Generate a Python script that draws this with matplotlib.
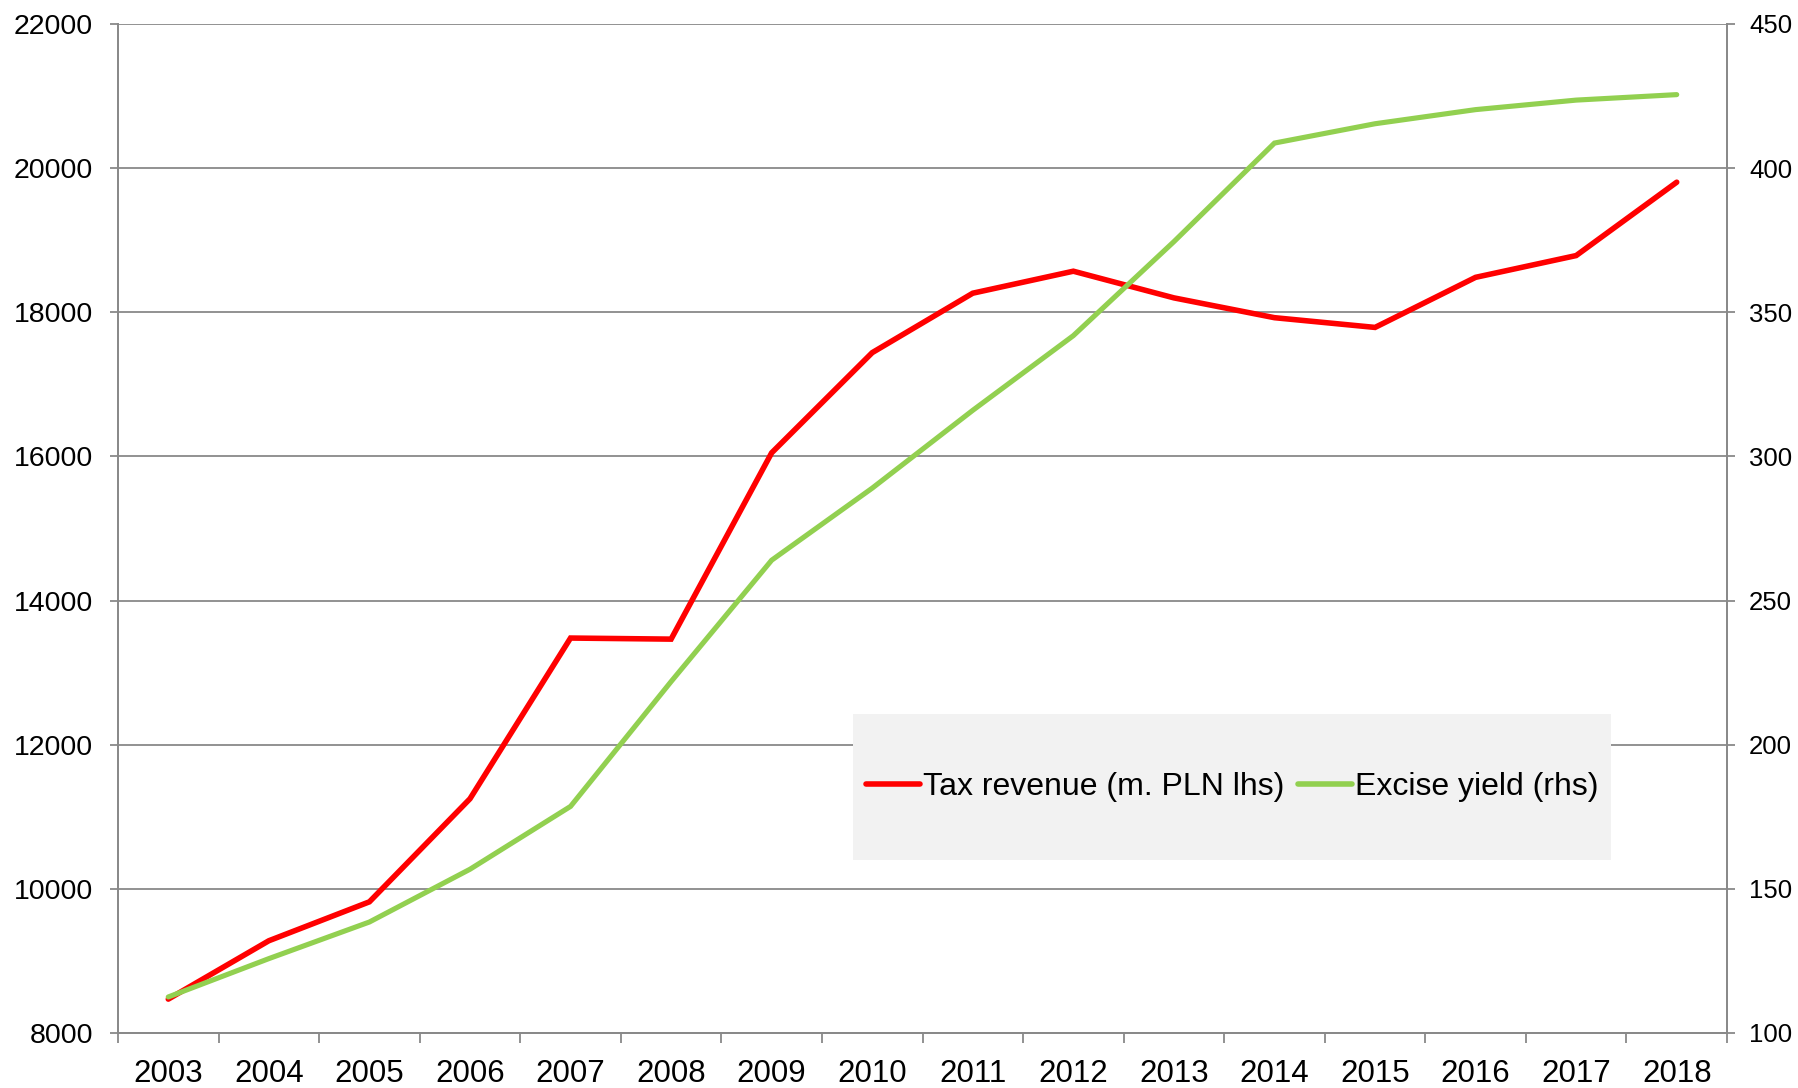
import matplotlib
matplotlib.use("Agg")
import matplotlib.pyplot as plt
from matplotlib.patches import Rectangle
from matplotlib.lines import Line2D

plt.rcParams['font.family'] = ['Liberation Sans', 'DejaVu Sans']

years = ['2003', '2004', '2005', '2006', '2007', '2008', '2009', '2010',
         '2011', '2012', '2013', '2014', '2015', '2016', '2017', '2018']
tax_revenue = [8470, 9280, 9820, 11250, 13480, 13465, 16050, 17440,
               18265, 18570, 18200, 17925, 17790, 18485, 18787, 19805]
excise_yield = [112.5, 125.8, 138.5, 156.8, 178.6, 221.9, 264.0, 289.0,
                316.0, 341.9, 374.5, 408.7, 415.4, 420.3, 423.6, 425.5]
left_ticks = [8000, 10000, 12000, 14000, 16000, 18000, 20000, 22000]
right_ticks = [100, 150, 200, 250, 300, 350, 400, 450]
label_tax = 'Tax revenue (m. PLN lhs)'
label_excise = 'Excise yield (rhs)'

RED = '#FF0000'
GREEN = '#92D050'
GRID = '#898989'

fig = plt.figure(figsize=(17.98, 10.88), dpi=100)
ax = fig.add_axes([118/1798, 1 - 1033/1088, (1727-118)/1798, (1033-24)/1088])
ax2 = ax.twinx()

x = list(range(len(years)))
ax.plot(x, tax_revenue, color=RED, lw=4.0, solid_capstyle='round', solid_joinstyle='miter', zorder=3)
ax2.plot(x, excise_yield, color=GREEN, lw=3.7, solid_capstyle='round', solid_joinstyle='miter', zorder=3)

ax.set_xlim(-0.5, len(years) - 0.5)
ax.set_ylim(left_ticks[0], left_ticks[-1])
ax2.set_ylim(right_ticks[0], right_ticks[-1])

ax.set_yticks(left_ticks)
ax.set_yticklabels([str(v) for v in left_ticks])
ax2.set_yticks(right_ticks)
ax2.set_yticklabels([str(v) for v in right_ticks])

# category boundaries as major ticks, labels at centres via minor ticks
ax.set_xticks([i - 0.5 for i in range(len(years) + 1)])
ax.set_xticklabels([])
ax.set_xticks(x, minor=True)
ax.set_xticklabels(years, minor=True)
ax.tick_params(axis='x', which='major', length=7.5, width=1.3, color=GRID, direction='out')
ax.tick_params(axis='x', which='minor', length=0, pad=19, labelsize=22.5)
ax.tick_params(axis='y', length=6, width=1.3, color=GRID, direction='out', pad=12, labelsize=20.5)
ax2.tick_params(axis='y', length=6, width=1.3, color=GRID, direction='out', pad=10, labelsize=18.5)

ax.grid(axis='y', color=GRID, lw=1.3, zorder=0)
ax.set_axisbelow(True)

for a in (ax, ax2):
    a.spines['top'].set_visible(False)
    for side in ('left', 'right', 'bottom'):
        a.spines[side].set_color(GRID)
        a.spines[side].set_linewidth(1.3)

# legend background box
box = Rectangle((0.457, 0.171), 0.471, 0.145, transform=ax2.transAxes,
                facecolor='#F2F2F2', edgecolor='none', zorder=4)
ax2.add_patch(box)
handles = [Line2D([], [], color=RED, lw=4.0, solid_capstyle='round'),
           Line2D([], [], color=GREEN, lw=4.0, solid_capstyle='round')]
leg = ax2.legend(handles, [label_tax, label_excise], loc='center',
                 bbox_to_anchor=(0.457 + 0.471/2, 0.171 + 0.145/2),
                 bbox_transform=ax2.transAxes, ncol=2, frameon=False,
                 fontsize=23, handlelength=1.7, handletextpad=0.1,
                 columnspacing=0.4, borderpad=0)
leg.set_zorder(5)

fig.savefig('out.png', dpi=100)
